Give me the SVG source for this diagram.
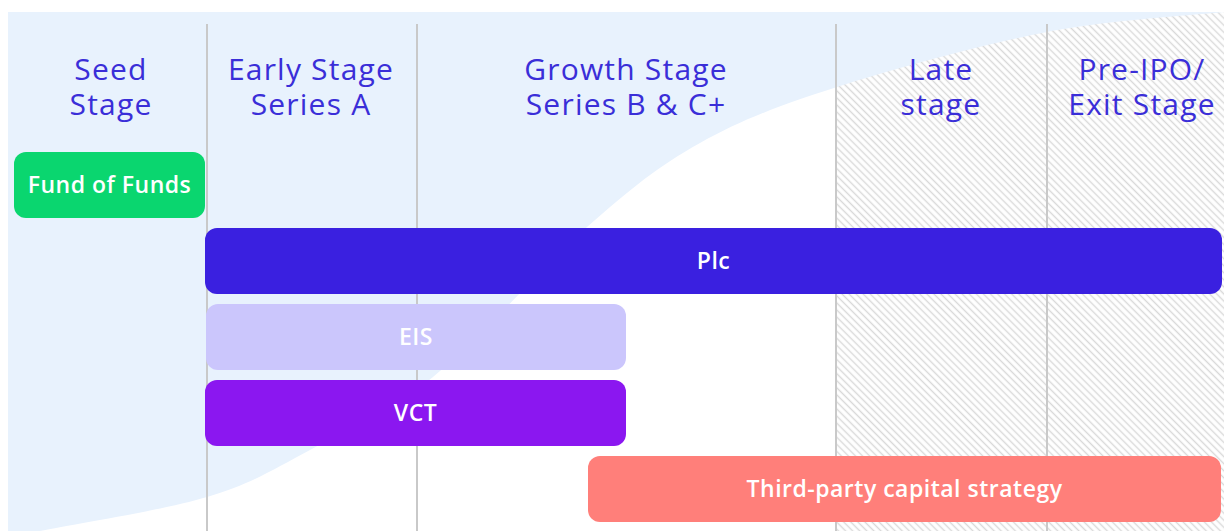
<svg xmlns="http://www.w3.org/2000/svg" width="1224" height="531" viewBox="0 0 1224 531">
  <defs>
    <pattern id="hatch" patternUnits="userSpaceOnUse" width="5" height="5" patternTransform="rotate(-45)">
      <rect width="5" height="5" fill="#ffffff"/>
      <line x1="2.5" y1="0" x2="2.5" y2="5" stroke="#d9d9d9" stroke-width="1.4"/>
    </pattern>
    <style>
      .head { font-family: "Open Sans", "Liberation Sans", sans-serif; font-size: 30px; letter-spacing: 1.2px; fill: #3a2ed8; text-anchor: middle; }
      .lbl { font-family: "Open Sans", "Liberation Sans", sans-serif; font-size: 23px; letter-spacing: 0.5px; font-weight: 600; fill: #ffffff; text-anchor: middle; }
      .col { stroke: #c9c9c9; stroke-width: 2; }
    </style>
  </defs>
  <rect width="1224" height="531" fill="#ffffff"/>
  <g id="background">
    <rect x="836" y="12" width="388" height="519" fill="url(#hatch)"/>
    <path d="M8,531 L40,531 C67.8,525.3 162,510.5 207,497 C252,483.5 272.3,470 310,450 C347.7,430 386.8,414.2 433,377 C479.2,339.8 542.5,266 587,227 C631.5,188 658.3,166.3 700,143 C741.7,119.7 779.2,105.5 837,87 C894.8,68.5 982.5,44.5 1047,32 C1111.5,19.5 1194.5,15.3 1224,12 L8,12 Z" fill="#e8f2fd"/>
  </g>
  <g id="columns">
    <line class="col" x1="207" y1="24" x2="207" y2="531"/>
    <line class="col" x1="417" y1="24" x2="417" y2="531"/>
    <line class="col" x1="836" y1="24" x2="836" y2="531"/>
    <line class="col" x1="1047" y1="24" x2="1047" y2="531"/>
  </g>
  <g id="headings">
    <text class="head" x="111" y="80"><tspan x="111" y="80">Seed</tspan><tspan x="111" y="115">Stage</tspan></text>
    <text class="head" x="311" y="80"><tspan x="311" y="80">Early Stage</tspan><tspan x="311" y="115">Series A</tspan></text>
    <text class="head" x="626" y="80"><tspan x="626" y="80">Growth Stage</tspan><tspan x="626" y="115">Series B &amp; C+</tspan></text>
    <text class="head" x="941" y="80"><tspan x="941" y="80">Late</tspan><tspan x="941" y="115">stage</tspan></text>
    <text class="head" x="1142" y="80"><tspan x="1142" y="80">Pre-IPO/</tspan><tspan x="1142" y="115">Exit Stage</tspan></text>
  </g>
  <g id="fund-of-funds">
    <rect x="14" y="152" width="191" height="66" rx="12" fill="#0ad66f"/>
    <text class="lbl" x="109.5" y="193">Fund of Funds</text>
  </g>
  <g id="plc">
    <rect x="205" y="228" width="1017" height="66" rx="12" fill="#3a20e0"/>
    <text class="lbl" x="713.5" y="269">Plc</text>
  </g>
  <g id="eis">
    <rect x="206" y="304" width="420" height="66" rx="12" fill="#cbc6fc"/>
    <text class="lbl" x="416" y="345">EIS</text>
  </g>
  <g id="vct">
    <rect x="205" y="380" width="421" height="66" rx="12" fill="#8b17f0"/>
    <text class="lbl" x="415.5" y="421">VCT</text>
  </g>
  <g id="third-party">
    <rect x="588" y="456" width="633" height="66" rx="12" fill="#ff7f7a"/>
    <text class="lbl" x="904.5" y="497">Third-party capital strategy</text>
  </g>
  <g id="connectors"/>
</svg>
